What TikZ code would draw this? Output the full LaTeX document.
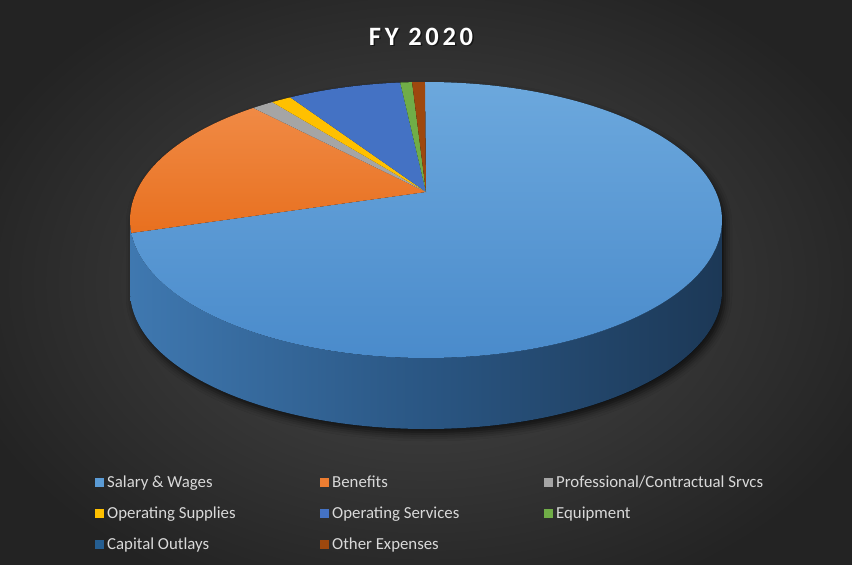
\documentclass[tikz,border=0pt]{standalone}
\usepackage{fontspec}
\setmainfont{Carlito}
\usetikzlibrary{shadows.blur}
\definecolor{bgin}{HTML}{4A4A4A}
\definecolor{bgout}{HTML}{232323}
\definecolor{salary}{HTML}{5B9BD5}
\definecolor{salaryL}{HTML}{6CA8DD}
\definecolor{salaryD}{HTML}{4A8BCB}
\definecolor{benefits}{HTML}{ED7D31}
\definecolor{benefitsL}{HTML}{F08A45}
\definecolor{benefitsD}{HTML}{E8701F}
\definecolor{prof}{HTML}{A5A5A5}
\definecolor{supplies}{HTML}{FFC000}
\definecolor{services}{HTML}{4472C4}
\definecolor{equip}{HTML}{70AD47}
\definecolor{capital}{HTML}{255E91}
\definecolor{other}{HTML}{9E480E}
\definecolor{sideL}{HTML}{3F78B0}
\definecolor{sideM}{HTML}{2A5683}
\definecolor{sideR}{HTML}{1C3856}
\definecolor{legtext}{HTML}{D9D9D9}
\tikzset{
  legsq/.style={minimum width=9pt, minimum height=9pt, inner sep=0pt, anchor=south west},
  legtxt/.style={text=legtext, font=\fontsize{16.8}{18}\selectfont, anchor=base west, inner sep=0pt},
  titletxt/.style={text=white, font=\fontsize{26.5}{30}\selectfont\bfseries\addfontfeature{LetterSpace=14}, anchor=base, inner sep=0pt}
}
\newcommand{\pieslice}[3]{%
  \fill[#1] (A) -- ([shift={(C)}]#2:296pt and 138pt)
    arc[start angle=#2, end angle=#3, x radius=296pt, y radius=138pt] -- cycle;}
\begin{document}
\begin{tikzpicture}[x=1pt,y=1pt]
\useasboundingbox (0,0) rectangle (852,-565);
\begin{scope}
\clip (0,0) rectangle (852,-565);
\shade[inner color=bgin, outer color=bgout] (-60,60) rectangle (912,-625);
\end{scope}
\coordinate (C) at (426,-220);
\coordinate (A) at (426,-192);
% shadow
\fill[black, blur shadow={shadow xshift=3pt, shadow yshift=-5pt, shadow blur radius=7pt, shadow opacity=70}]
  (722,-220) arc[start angle=0, end angle=180, x radius=296pt, y radius=138pt]
  -- ++(0,-71) arc[start angle=180, end angle=360, x radius=296pt, y radius=138pt] -- cycle;
% side
\shade[left color=sideL, right color=sideR, middle color=sideM]
  (130,-220) arc[start angle=180, end angle=360, x radius=296pt, y radius=138pt]
  -- ++(0,-71) arc[start angle=360, end angle=180, x radius=296pt, y radius=138pt] -- cycle;
% top face
\shade[top color=salaryL, bottom color=salaryD]
  (A) -- ([shift={(C)}]90.2:296pt and 138pt)
  arc[start angle=90.2, end angle=-174.6, x radius=296pt, y radius=138pt] -- cycle;
\shade[top color=benefitsL, bottom color=benefitsD]
  (A) -- ([shift={(C)}]185.4:296pt and 138pt)
  arc[start angle=185.4, end angle=125.7, x radius=296pt, y radius=138pt] -- cycle;
\pieslice{prof}{125.7}{121.3}
\pieslice{supplies}{121.3}{117.3}
\pieslice{services}{117.3}{95}
\pieslice{equip}{95}{92.7}
\pieslice{other}{92.7}{90.2}
% title
\node[titletxt, text=black, opacity=0.5] at (422.5,-46.5) {FY 2020};
\node[titletxt] (title) at (421,-45) {FY 2020};
% legend
\node[legsq, fill=salary]   (s1) at (95,-487) {};
\node[legtxt] (l1) at (107,-487) {Salary \& Wages};
\node[legsq, fill=benefits] (s2) at (320,-487) {};
\node[legtxt] (l2) at (332,-487) {Benefits};
\node[legsq, fill=prof]     (s3) at (544,-487) {};
\node[legtxt] (l3) at (556,-487) {Professional/Contractual Srvcs};
\node[legsq, fill=supplies] (s4) at (95,-518) {};
\node[legtxt] (l4) at (107,-518) {Operating Supplies};
\node[legsq, fill=services] (s5) at (320,-518) {};
\node[legtxt] (l5) at (332,-518) {Operating Services};
\node[legsq, fill=equip]    (s6) at (544,-518) {};
\node[legtxt] (l6) at (556,-518) {Equipment};
\node[legsq, fill=capital]  (s7) at (95,-549) {};
\node[legtxt] (l7) at (107,-549) {Capital Outlays};
\node[legsq, fill=other]    (s8) at (320,-549) {};
\node[legtxt] (l8) at (332,-549) {Other Expenses};
\end{tikzpicture}
\end{document}
